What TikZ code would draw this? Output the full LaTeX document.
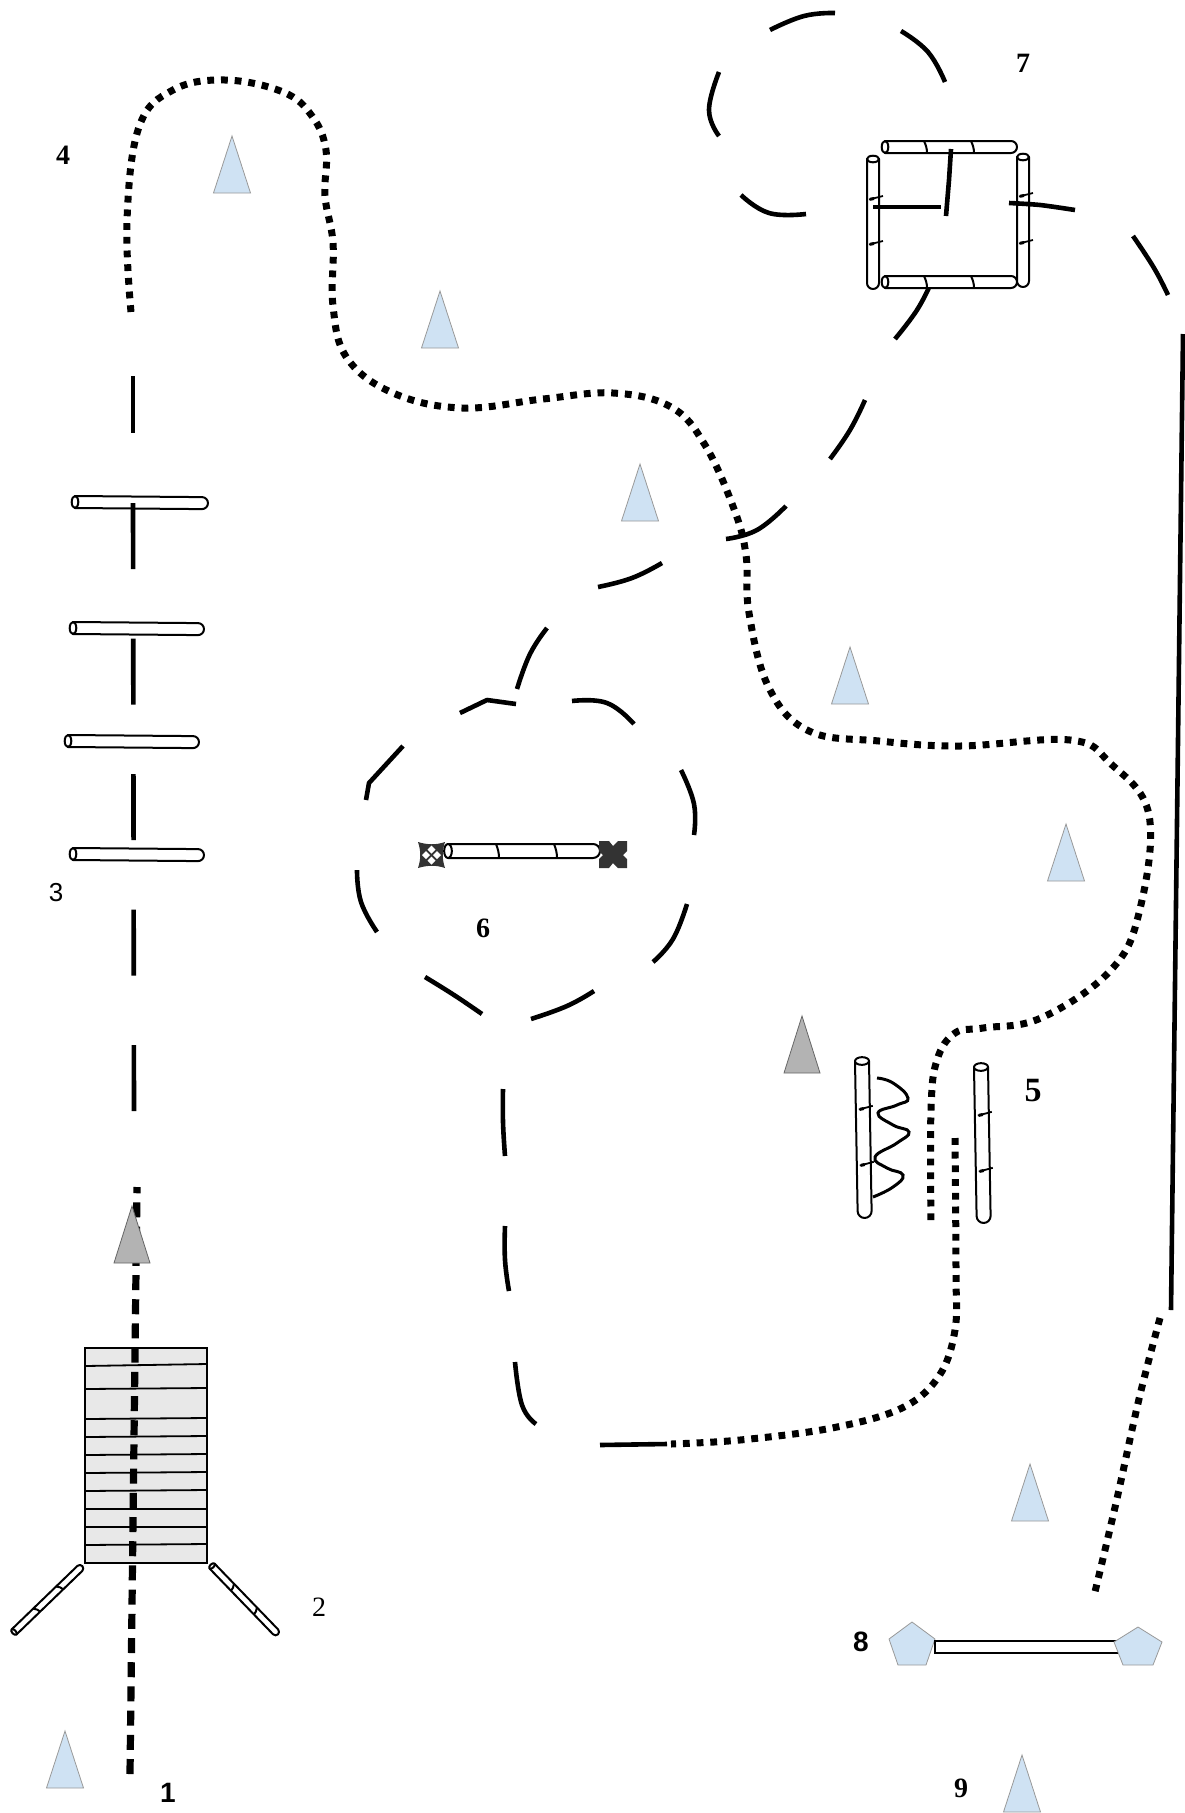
\documentclass[tikz,border=0pt]{standalone}
\usepackage{fontspec}
\setmainfont{Liberation Serif}
\setsansfont{Liberation Sans}
\definecolor{coneblue}{HTML}{CFE2F3}
\definecolor{conegrey}{HTML}{B3B3B3}
\definecolor{slatgrey}{HTML}{E8E8E8}
\newcommand{\rod}[6]{% x, y, angle, length, half width, bands
  \begin{scope}[shift={(#1,#2)},rotate=#3]
    \draw[rodline,fill=white] (0,-#5) -- (#4-#5,-#5) arc (-90:90:#5 and #5) -- (0,#5) -- cycle;
    \draw[rodline,fill=white] (0,0) ellipse ({0.55*#5} and #5);
    \foreach \b in {#6}
      \draw[rodline] (\b,-#5) .. controls (\b+2,-#5*0.3) and (\b+3,#5*0.3) .. (\b+3,#5);
  \end{scope}}
\newcommand{\post}[7]{% x, y, angle, length, half width, first tick, second tick
  \begin{scope}[shift={(#1,#2)},rotate=#3]
    \draw[rodline,fill=white] (0,-#5) -- (#4-#5,-#5) arc (-90:90:#5 and #5) -- (0,#5) -- cycle;
    \draw[rodline,fill=white] (0,0) ellipse (#5*0.55 and #5);
    \foreach \b in {#6,#7} {
      \draw[tickline] (\b-2,-10) -- (\b+1.5,4);
      \draw[tickline,line width=3pt] (\b+0.5,-1) -- (\b+1.3,3);
    }
  \end{scope}}
\tikzset{
  rodline/.style={line width=2pt,line join=round},
  tickline/.style={line width=1.8pt},
  cone/.style={draw=black!40,line width=0.8pt,fill=coneblue},
  greycone/.style={draw=black!60,line width=0.8pt,fill=conegrey},
  route/.style={line width=4.6pt},
  dots/.style={line width=7pt,dash pattern=on 6.8pt off 6.9pt},
  start/.style={line width=7.2pt,dash pattern=on 15pt off 9.2pt},
  num/.style={font=\fontsize{28}{30}\selectfont,inner sep=0pt}
}
\begin{document}
\begin{tikzpicture}[x=1pt,y=-1pt]
  \useasboundingbox (0,0) rectangle (1184,1813);

  % slatted box and the two side poles
  \draw[line width=2pt,fill=slatgrey] (85,1348) rectangle (207,1563);
  \foreach \yl/\yr in {1366/1364,1389/1388,1419/1418,1437/1436,1455/1454,1473/1472,1491/1490,1509/1509,1527/1527,1545/1544}
    \draw[line width=1.8pt] (85,\yl) -- (207,\yr);
  \rod{14}{1632}{44}{95}{3.5}{30,62}
  \rod{212}{1566}{-46}{95}{3.5}{28,61}

  % main line
  \draw[start] (130,1774) -- (137,1187);
  \draw[greycone] (132,1206) -- (114,1263) -- (150,1263) -- cycle;

  % poles of 3, the line runs over them
  \rod{75}{502}{-0.5}{133}{6}{}
  \rod{73}{628}{-0.5}{131}{6}{}
  \rod{68}{741}{-0.5}{131}{6}{}
  \rod{73}{854}{-0.5}{131}{6}{}
  \draw[route] (133,376) -- (133,433);
  \draw[route,dash pattern=on 66pt off 69.5pt] (133,503) -- (134,1112);

  % cones
  \foreach \x/\y in {232/136,440/291,640/464,850/647,1066/824,1030/1464,65/1731,1022/1755}
    \draw[cone] (\x,\y) -- ++(-18.5,57) -- ++(37,0) -- cycle;
  \draw[greycone] (802,1016) -- (784,1073) -- (820,1073) -- cycle;

  % dotted stretches
  \draw[dots] plot[smooth,tension=0.65] coordinates {(131,312) (127,220) (139,127) (173,90) (225,80) (283,92) (312,116) (326,150) (325,196) (333,243) (333,306) (347,358) (393,393) (462,408) (543,399) (613,393) (671,407) (705,445) (734,509) (746,555) (749,613) (769,688) (809,731) (879,741) (960,746) (1070,740) (1110,763) (1149,815) (1139,913) (1110,971) (1041,1018) (983,1028) (955,1033) (937,1060) (931,1110) (931,1226)};
  \draw[dots] plot[smooth,tension=0.6] coordinates {(955,1138) (956,1272) (955,1330) (939,1376) (902,1408) (832,1428) (740,1440) (671,1444)};
  \draw[dots] plot[smooth,tension=0.6] coordinates {(1160,1318) (1139,1399) (1116,1503) (1094,1596)};

  % dashed route
  \draw[route] (600,1445) -- (667,1444);
  \foreach \pa/\pb/\pc in {
    {(536,1424)}/{(522,1405)}/{(515,1362)},
    {(509,1291)}/{(505,1260)}/{(505,1226)},
    {(505,1156)}/{(503,1122)}/{(503,1089)},
    {(482,1014)}/{(454,995)}/{(425,977)},
    {(531,1019)}/{(567,1006)}/{(594,991)},
    {(653,962)}/{(673,939)}/{(687,904)},
    {(681,770)}/{(694,804)}/{(694,835)},
    {(572,701)}/{(607,703)}/{(634,724)},
    {(357,870)}/{(361,902)}/{(377,932)},
    {(517,689)}/{(530,654)}/{(547,628)},
    {(598,587)}/{(632,578)}/{(662,563)},
    {(726,539)}/{(757,530)}/{(786,506)},
    {(830,459)}/{(850,430)}/{(865,400)},
    {(895,339)}/{(917,310)}/{(931,283)},
    {(806,214)}/{(769,213)}/{(741,195)},
    {(719,136)}/{(709,110)}/{(719,72)},
    {(770,30)}/{(804,16)}/{(835,13)},
    {(901,31)}/{(928,52)}/{(945,82)},
    {(1133,236)}/{(1154,268)}/{(1168,295)}}
    \draw[route] plot[smooth,tension=0.75] coordinates {\pa \pb \pc};
  \draw[route,line join=round] (460,713) -- (487,700) -- (516,704);
  \draw[route,line join=round] (403,746) -- (369,783) -- (366,800);
  \draw[route] (1183,334) -- (1171,1310);

  % pole and markers of 6
  \rod{448}{851}{0}{152}{7}{48,106}
  \fill[black!80] (418,842) .. controls (428,845) and (436,845) .. (445,842) .. controls (442,851) and (442,859) .. (445,868) .. controls (436,865) and (428,865) .. (418,868) .. controls (421,859) and (421,851) .. (418,842) -- cycle;
  \foreach \dx/\dy in {0/-5.5,0/5.5,-5.5/0,5.5/0}
    \fill[white] (431.5+\dx,855+\dy-4) -- ++(4,4) -- ++(-4,4) -- ++(-4,-4) -- cycle;
  \fill[black!80] (599,841) -- (609,841) -- (613,846) -- (618,841) -- (627,841) -- (627,851) -- (623,855) -- (627,859) -- (627,868) -- (618,868) -- (613,863) -- (609,868) -- (599,868) -- (599,859) -- (603,855) -- (599,851) -- cycle;

  % poles of 5 and the wave
  \post{862}{1061}{-89}{157}{7}{47}{103}
  \post{981}{1067}{-89}{156}{7}{47}{103}
  \draw[line width=3pt] plot[smooth,tension=0.8] coordinates {(877,1078) (893,1083) (908,1098) (897,1105) (878,1113) (893,1125) (909,1132) (897,1143) (875,1157) (887,1168) (903,1175) (893,1187) (873,1197)};

  % frame of 7
  \post{873}{159}{-90}{130}{6}{39}{84}
  \post{1023}{157}{-90}{130}{6}{38}{85}
  \rod{885}{147}{0}{132}{6}{39,86}
  \rod{885}{282}{0}{132}{6}{39,86}
  \draw[route] (873,207) -- (941,207);
  \draw[route] (951,149) -- (949,180) -- (946,216);
  \draw[route] plot[smooth] coordinates {(1009,203) (1040,205) (1075,210)};

  % gate of 8
  \draw[cone] (912,1622) -- (935,1639) -- (926,1665) -- (898,1665) -- (889,1639) -- cycle;
  \draw[line width=2pt,fill=white] (935,1641) rectangle (1125,1653);
  \draw[cone] (1138,1627) -- (1162,1642) -- (1153,1665) -- (1123,1665) -- (1114,1642) -- cycle;

  % numbers
  \node[num,font=\fontsize{28}{30}\selectfont\sffamily\bfseries] (n1) at (168,1793) {1};
  \node[num] (n2) at (319,1607) {2};
  \node[num,font=\fontsize{26}{30}\selectfont\sffamily] (n3) at (56,893) {3};
  \node[num,font=\fontsize{28}{30}\selectfont\bfseries] (n4) at (63,155) {4};
  \node[num,font=\fontsize{34}{36}\selectfont\bfseries] (n5) at (1033,1091) {5};
  \node[num,font=\fontsize{28}{30}\selectfont\bfseries] (n6) at (483,928) {6};
  \node[num,font=\fontsize{28}{30}\selectfont\bfseries] (n7) at (1023,63) {7};
  \node[num,font=\fontsize{28}{30}\selectfont\sffamily\bfseries] (n8) at (861,1642) {8};
  \node[num,font=\fontsize{28}{30}\selectfont\bfseries] (n9) at (961,1788) {9};
\end{tikzpicture}
\end{document}
